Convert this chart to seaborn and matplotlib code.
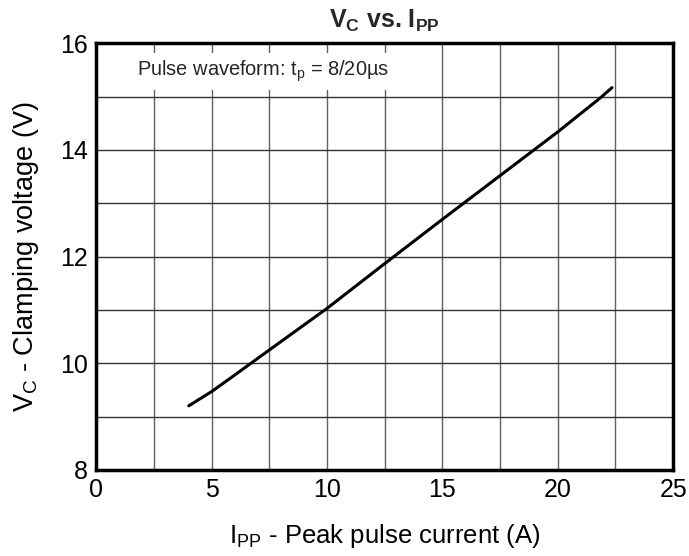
import matplotlib
matplotlib.use("Agg")
import matplotlib.pyplot as plt
import numpy as np
import pandas as pd
import seaborn as sns
from matplotlib.patches import Rectangle

# peak pulse current (A) vs clamping voltage (V)
ipp = [4.0, 5.0, 6.0, 6.7, 7.5, 8.75, 10.0, 12.5, 15.0, 17.5, 20.0, 21.85, 22.35]
vc = [9.2, 9.47, 9.78, 10.0, 10.25, 10.64, 11.03, 11.87, 12.7, 13.52, 14.34, 14.98, 15.17]

x_ticks = [0, 5, 10, 15, 20, 25]
y_ticks = [8, 10, 12, 14, 16]

df = pd.DataFrame({"Ipp": ipp, "Vc": vc})

sns.set_theme(style="white")
plt.rcParams["font.family"] = ["Liberation Sans", "DejaVu Sans"]
plt.rcParams["mathtext.fontset"] = "custom"
plt.rcParams["mathtext.rm"] = "Liberation Sans"
plt.rcParams["mathtext.it"] = "Liberation Sans"
plt.rcParams["mathtext.bf"] = "Liberation Sans:bold"

fig = plt.figure(figsize=(6.89, 5.56), dpi=100)
ax = fig.add_axes([0.140, 0.155, 0.837, 0.767])

# grid every 2.5 A / 1 V
for gx in np.arange(2.5, 25, 2.5):
    ax.axvline(gx, color="#606060", lw=1.0, zorder=1)
for gy in np.arange(9, 16, 1):
    ax.axhline(gy, color="#333333", lw=1.0, zorder=1)

# white label box hides the grid behind the note
ax.add_patch(Rectangle((0, 15.13), 14.0, 0.69, facecolor="white", edgecolor="none", zorder=2))
ax.text(1.75, 15.48, r"Pulse waveform: t$_\mathregular{p}$ = 8/20µs", fontsize=14.4,
        va="center", ha="left", zorder=3)

sns.lineplot(data=df, x="Ipp", y="Vc", color="black", lw=2.2, ax=ax, zorder=4)

ax.set_xlim(0, 25)
ax.set_ylim(8, 16)
ax.set_xticks(x_ticks)
ax.set_yticks(y_ticks)
ax.tick_params(labelsize=18, length=0, pad=6, colors="black")
for s in ax.spines.values():
    s.set_color("black")
    s.set_linewidth(2.5)

ax.set_xlabel(r"I$_\mathregular{PP}$ - Peak pulse current (A)", fontsize=18.5, labelpad=14, color="black")
ax.set_ylabel(r"V$_\mathregular{C}$ - Clamping voltage (V)", fontsize=19.5, labelpad=14, color="black")
ax.set_title(r"$\mathbf{V_C}$ vs. $\mathbf{I_{PP}}$", fontsize=18, fontweight="bold", pad=11)

fig.savefig("out.png", dpi=100)
